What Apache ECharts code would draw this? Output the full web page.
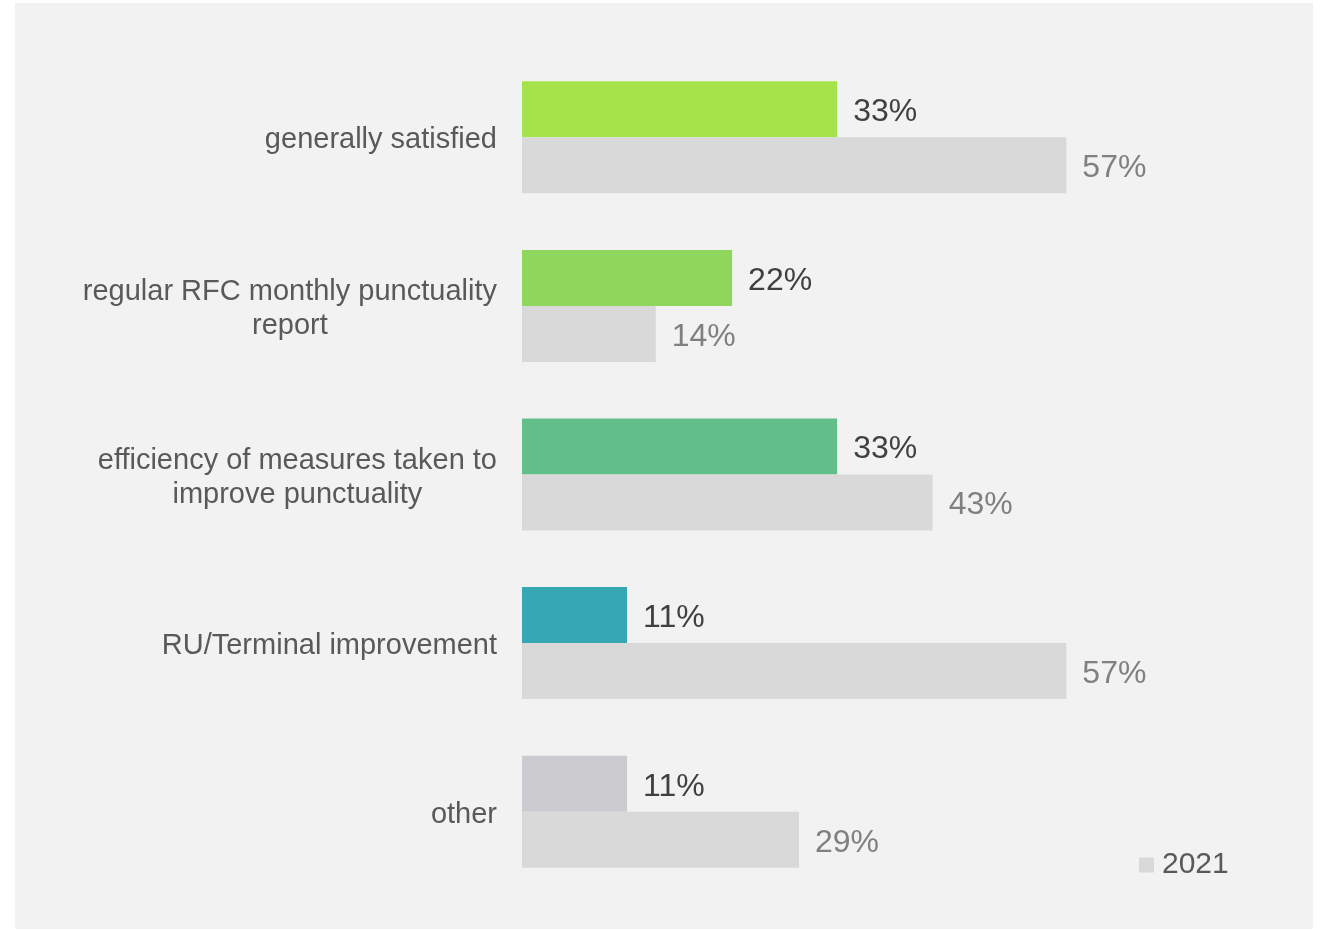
<!DOCTYPE html>
<html>
<head>
<meta charset="utf-8">
<script src="https://cdn.jsdelivr.net/npm/echarts@6/dist/echarts.min.js"></script>
<style>
  html, body { margin: 0; padding: 0; background: #ffffff; }
  #chart { width: 1327px; height: 930px; }
</style>
</head>
<body>
<div id="chart"></div>
<script>
// Survey topics (top to bottom)
const categories = [
  'generally satisfied',
  'regular RFC monthly punctuality\nreport',
  'efficiency of measures taken to\nimprove punctuality',
  'RU/Terminal improvement',
  'other'
];
// Current survey shares (%)
const currentValues = [33, 22, 33, 11, 11];
// 2021 survey shares (%)
const values2021 = [57, 14, 43, 57, 29];
const legendLabels = ['2021'];

// Per-topic fill of the current-year bars
const currentColors = ['#a6e34a', '#8fd65c', '#62bf8a', '#36a8b4', '#cbcbcf'];

const FONT = '"Liberation Sans", Arial, sans-serif';

const chart = echarts.init(document.getElementById('chart'), null, { renderer: 'canvas' });

chart.setOption({
  backgroundColor: '#ffffff',
  animation: false,
  textStyle: { fontFamily: FONT },
  graphic: [{
    type: 'rect',
    z: -10,
    shape: { x: 15, y: 3, width: 1298, height: 926 },
    style: { fill: '#f2f2f2' },
    silent: true
  }],
  legend: {
    data: legendLabels,
    left: 1134,
    top: 845,
    itemWidth: 15,
    itemHeight: 15,
    icon: 'rect',
    itemGap: 8,
    textStyle: { fontFamily: FONT, fontSize: 30, color: '#595959', padding: [0, 0, 0, 3] }
  },
  grid: { left: 522, top: 53, width: 764, height: 843, containLabel: false },
  xAxis: {
    type: 'value',
    min: 0,
    max: 80,
    show: false
  },
  yAxis: {
    type: 'category',
    data: categories,
    inverse: true,
    axisLine: { show: false },
    axisTick: { show: false },
    splitLine: { show: false },
    axisLabel: {
      margin: 25,
      padding: [6, 0, 0, 0],
      formatter: function (v) {
        return v.split('\n').map(function (s) { return '{c|' + s + '}'; }).join('\n');
      },
      rich: {
        c: {
          align: 'center',
          fontFamily: FONT,
          fontSize: 29,
          lineHeight: 34,
          color: '#595959'
        }
      }
    }
  },
  series: [
    {
      name: 'current',
      type: 'bar',
      barWidth: 56,
      barGap: '0%',
      data: currentValues.map(function (v, i) {
        return { value: v, itemStyle: { color: currentColors[i] } };
      }),
      label: {
        show: true,
        position: 'right',
        distance: 16,
        offset: [0, 3],
        formatter: '{c}%',
        fontFamily: FONT,
        fontSize: 32,
        color: '#404040'
      }
    },
    {
      name: '2021',
      type: 'bar',
      barWidth: 56,
      barGap: '0%',
      data: values2021,
      itemStyle: { color: '#d9d9d9' },
      label: {
        show: true,
        position: 'right',
        distance: 16,
        offset: [0, 3],
        formatter: '{c}%',
        fontFamily: FONT,
        fontSize: 32,
        color: '#808080'
      }
    }
  ]
});
</script>
</body>
</html>
